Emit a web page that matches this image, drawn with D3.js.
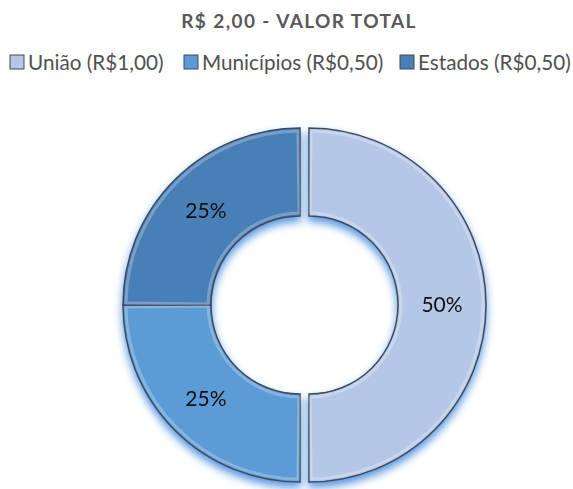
<!DOCTYPE html>
<html>
<head>
<meta charset="utf-8">
<script src="https://cdn.jsdelivr.net/npm/d3@7"></script>
<style>
  body { margin: 0; background: #fff; }
  text { font-family: Lato, "Open Sans", sans-serif; }
</style>
</head>
<body>
<div id="chart"></div>
<script>
// data
var categories = ["União", "Municípios", "Estados"];
var legendLabels = ["União (R$1,00)", "Municípios (R$0,50)", "Estados (R$0,50)"];
var values = [1.00, 0.50, 0.50];
var title = "R$ 2,00 - VALOR TOTAL";

var width = 573;
var height = 489;

var colors = ["#b4c7e7", "#5b9bd5", "#4a7fb7"];
var cx = 300, cy = 305;
var outerR = 177, innerR = 89;
var explode = [9, 0, 0]; // px pulled out from the centre

var svg = d3.select("#chart").append("svg")
  .attr("width", width)
  .attr("height", height);

var defs = svg.append("defs");
var shadow = defs.append("filter")
  .attr("id", "shadow")
  .attr("x", "-20%").attr("y", "-20%")
  .attr("width", "140%").attr("height", "140%");
shadow.append("feDropShadow")
  .attr("dx", 0).attr("dy", 5)
  .attr("stdDeviation", 4)
  .attr("flood-color", "#2a7ad6")
  .attr("flood-opacity", 0.8);

// title
svg.append("text")
  .attr("x", 299)
  .attr("y", 28)
  .attr("text-anchor", "middle")
  .style("font-size", "19px")
  .style("font-weight", "bold")
  .style("letter-spacing", "1.4px")
  .style("fill", "#595959")
  .text(title);

// legend
var legendX = [10, 184, 400];
var legend = svg.selectAll(".legend").data(legendLabels)
  .enter().append("g")
  .attr("class", "legend")
  .attr("transform", function(d, i) { return "translate(" + legendX[i] + ",55)"; });

legend.append("rect")
  .attr("width", 14).attr("height", 14)
  .attr("fill", function(d, i) { return colors[i]; })
  .attr("stroke", "#3f4a5a")
  .attr("stroke-width", 1);

legend.append("text")
  .attr("x", 18)
  .attr("y", 15)
  .style("font-size", "20.7px")
  .style("fill", "#505050")
  .text(function(d) { return d; });

// donut
var pie = d3.pie().sort(null).value(function(d) { return d; });
var arcs = pie(values);

var arc = d3.arc().innerRadius(innerR).outerRadius(outerR);
var bevel = d3.arc().innerRadius(innerR + 3).outerRadius(outerR - 3);

var slices = svg.append("g")
  .attr("filter", "url(#shadow)")
  .selectAll(".slice").data(arcs)
  .enter().append("g")
  .attr("class", "slice")
  .attr("transform", function(d, i) {
    var a = (d.startAngle + d.endAngle) / 2;
    var dx = Math.sin(a) * explode[i];
    var dy = -Math.cos(a) * explode[i];
    return "translate(" + (cx + dx) + "," + (cy + dy) + ")";
  });

slices.append("path")
  .attr("d", arc)
  .attr("fill", function(d, i) { return colors[i]; })
  .attr("stroke", "#3f4a5a")
  .attr("stroke-width", 1.5);

slices.append("path")
  .attr("d", function(d) {
    return bevel({startAngle: d.startAngle + 0.012, endAngle: d.endAngle - 0.012});
  })
  .attr("fill", "none")
  .attr("stroke", "#ffffff")
  .attr("stroke-opacity", 0.25)
  .attr("stroke-width", 3);

slices.append("text")
  .attr("transform", function(d) { return "translate(" + arc.centroid(d) + ")"; })
  .attr("text-anchor", "middle")
  .attr("dy", "0.35em")
  .style("font-size", "21px")
  .style("fill", "#111111")
  .text(function(d, i) { return Math.round(d.value / d3.sum(values) * 100) + "%"; });
</script>
</body>
</html>
